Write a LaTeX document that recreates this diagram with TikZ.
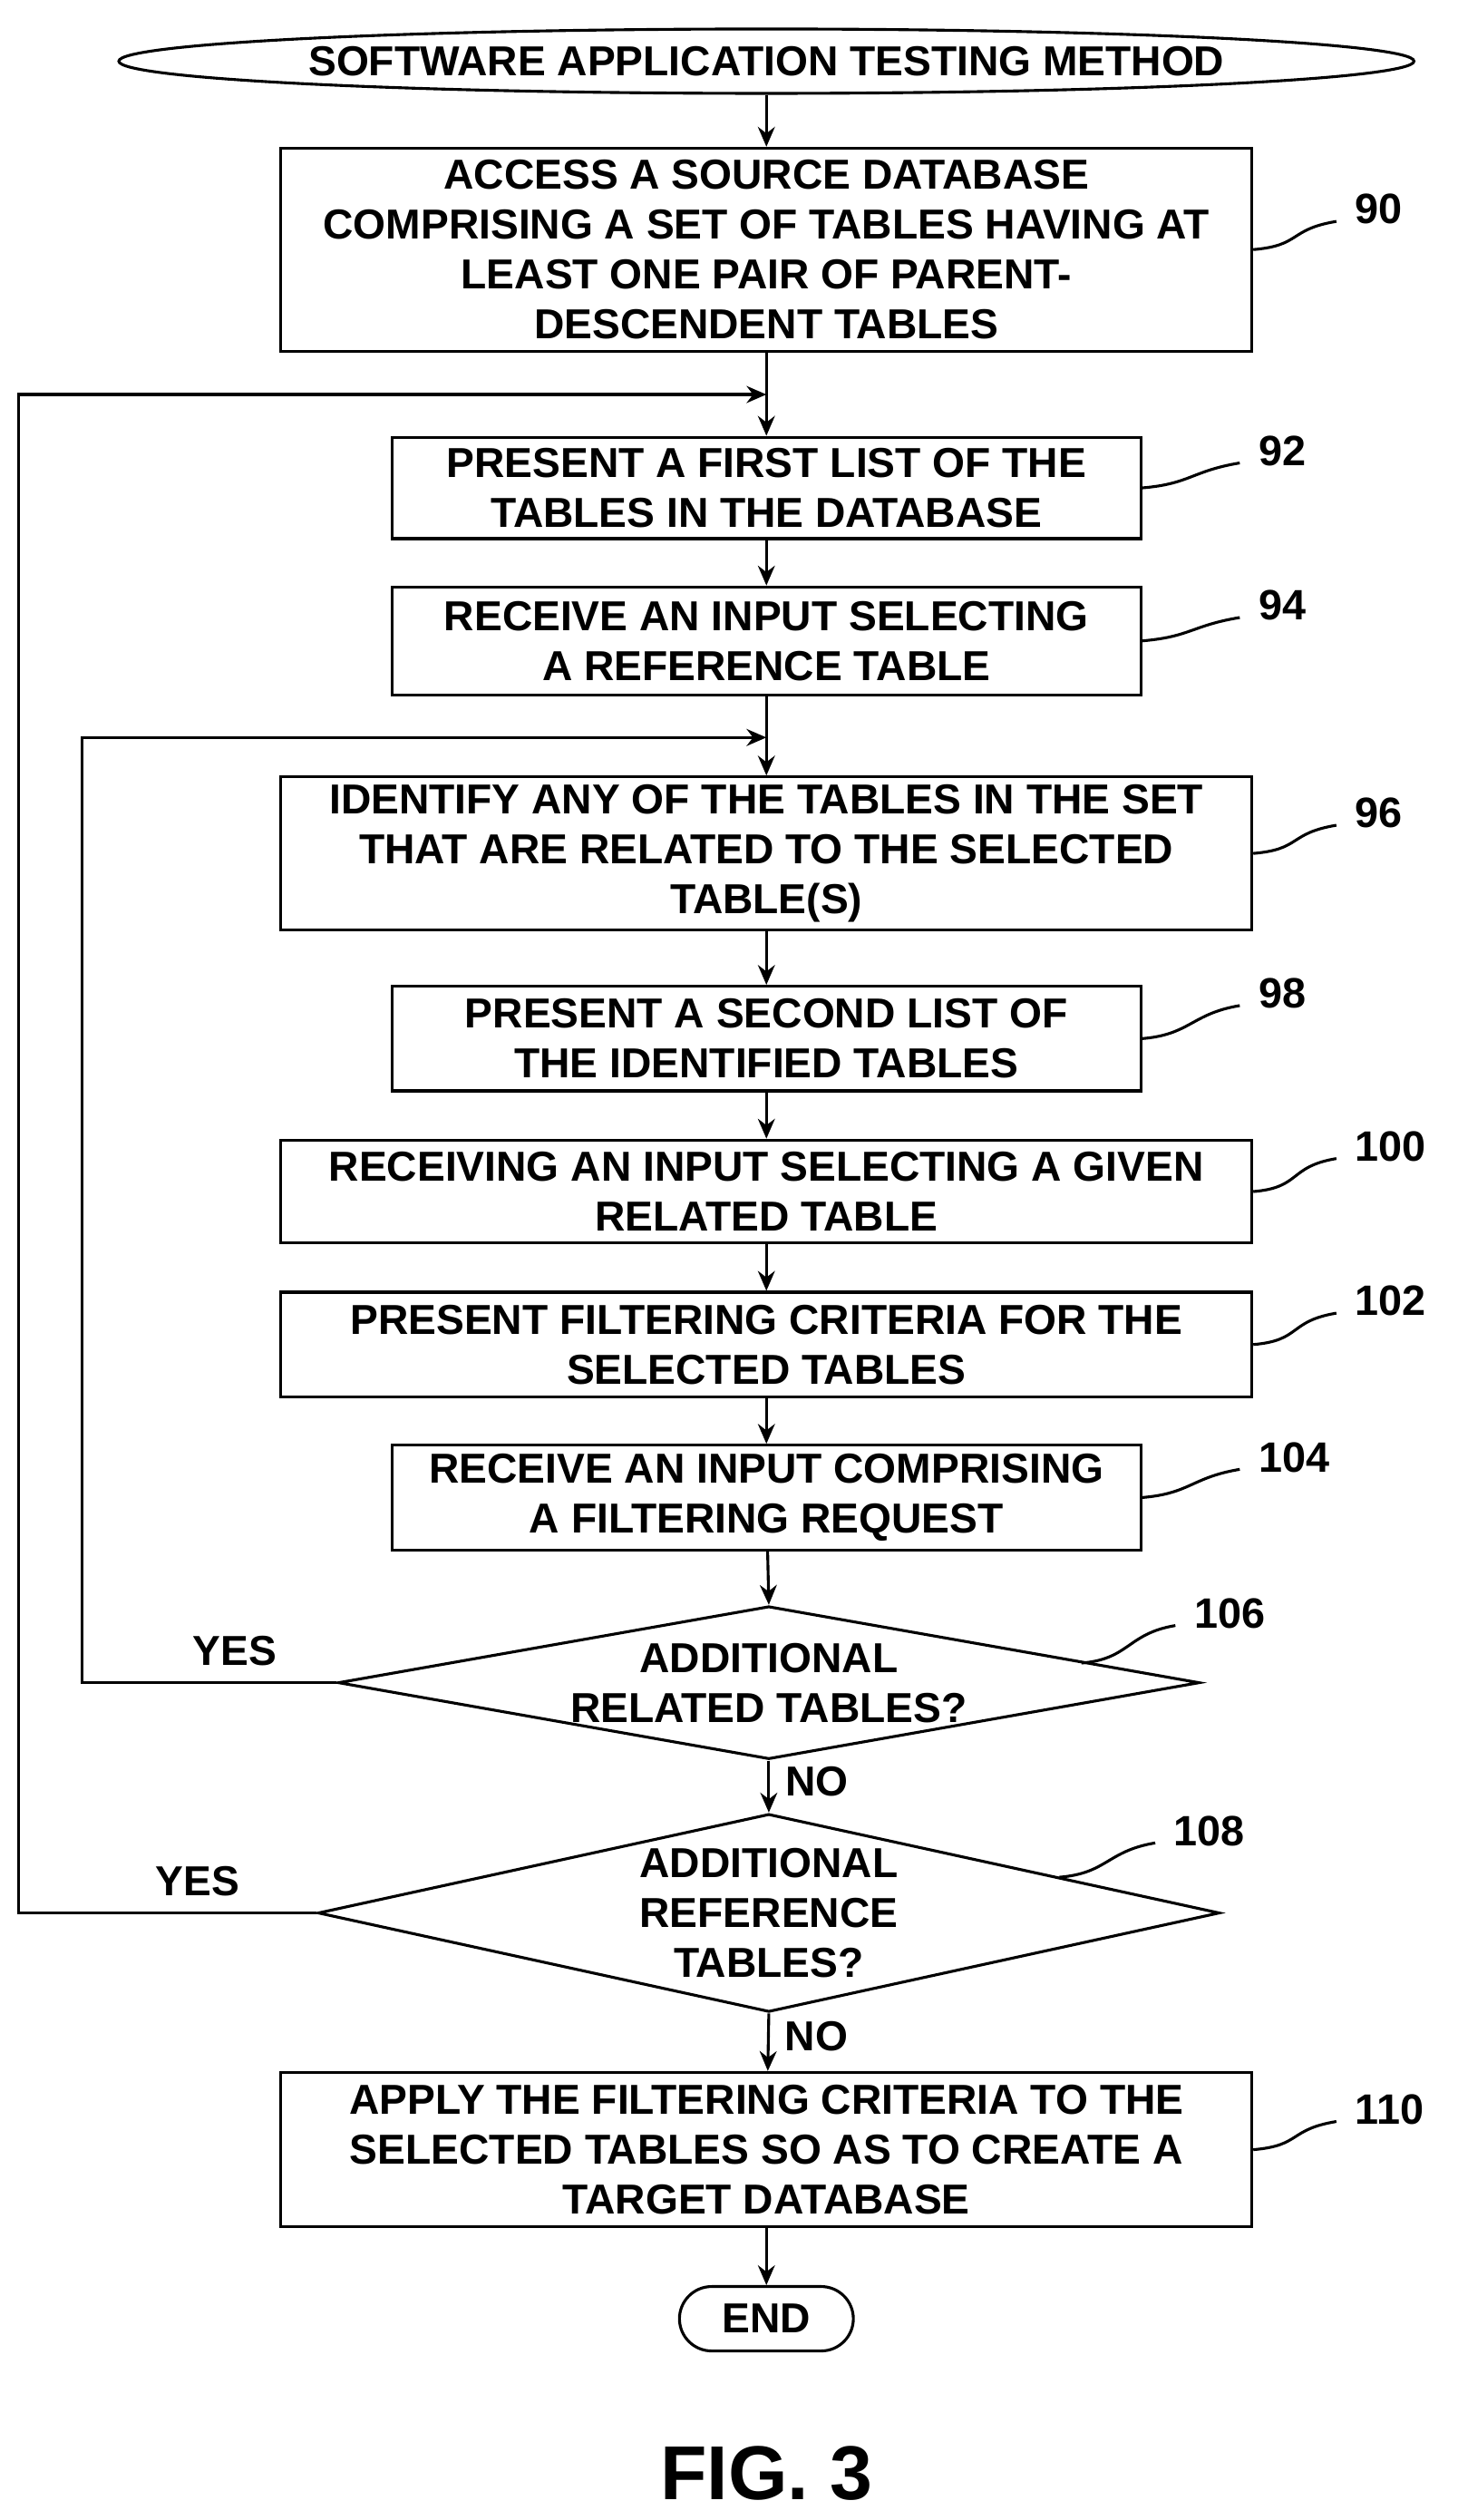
\documentclass[tikz,border=0pt]{standalone}
\usepackage{fontspec}
\setmainfont{Liberation Sans}
\usetikzlibrary{shapes.geometric,arrows.meta}

\begin{document}
\begin{tikzpicture}[font=\bfseries\fontsize{14.8}{17.6}\selectfont, line width=1pt,
  box/.style={draw, rectangle, align=center, inner sep=2pt},
  wide/.style={box, minimum width=12.06cm},
  narrow/.style={box, minimum width=9.3cm},
  decision/.style={draw, diamond, inner sep=0pt},
  arrow/.style={-{Stealth[length=7pt,width=6pt]}},
  refnum/.style={font=\bfseries\fontsize{15}{17}\selectfont, anchor=west},
  squiggle/.style={line width=1pt}]
  \useasboundingbox (0,0) rectangle (18.1,-31.3);

  \node[draw, ellipse, minimum width=12.6cm, minimum height=0.8cm, inner sep=0pt] (start) at (9.52,-0.76) {SOFTWARE APPLICATION TESTING METHOD};
  \node[wide, minimum height=2.52cm] (s90) at (9.52,-3.1) {ACCESS A SOURCE DATABASE\\COMPRISING A SET OF TABLES HAVING AT\\LEAST ONE PAIR OF PARENT-\\DESCENDENT TABLES};
  \node[narrow, minimum height=1.26cm] (s92) at (9.52,-6.06) {PRESENT A FIRST LIST OF THE\\TABLES IN THE DATABASE};
  \node[narrow, minimum height=1.34cm] (s94) at (9.52,-7.96) {RECEIVE AN INPUT SELECTING\\A REFERENCE TABLE};
  \node[wide, minimum height=1.9cm] (s96) at (9.52,-10.6) {IDENTIFY ANY OF THE TABLES IN THE SET\\THAT ARE RELATED TO THE SELECTED\\TABLE(S)};
  \node[narrow, minimum height=1.3cm] (s98) at (9.52,-12.9) {PRESENT A SECOND LIST OF\\THE IDENTIFIED TABLES};
  \node[wide, minimum height=1.28cm] (s100) at (9.52,-14.8) {RECEIVING AN INPUT SELECTING A GIVEN\\RELATED TABLE};
  \node[wide, minimum height=1.3cm] (s102) at (9.52,-16.7) {PRESENT FILTERING CRITERIA FOR THE\\SELECTED TABLES};
  \node[narrow, minimum height=1.3cm] (s104) at (9.52,-18.6) {RECEIVE AN INPUT COMPRISING\\A FILTERING REQUEST};
  \node[decision, minimum width=10.7cm, minimum height=1.9cm, label={[align=center]center:ADDITIONAL\\RELATED TABLES?}] (s106) at (9.55,-20.9) {};
  \node[decision, minimum width=11.2cm, minimum height=2.46cm, label={[align=center]center:ADDITIONAL\\REFERENCE\\TABLES?}] (s108) at (9.55,-23.76) {};
  \node[wide, minimum height=1.92cm] (s110) at (9.52,-26.7) {APPLY THE FILTERING CRITERIA TO THE\\SELECTED TABLES SO AS TO CREATE A\\TARGET DATABASE};
  \node[draw, rounded corners=0.4cm, minimum width=2.16cm, minimum height=0.8cm] (stop) at (9.52,-28.8) {END};
  \node[font=\bfseries\fontsize{27}{30}\selectfont] (fig) at (9.52,-30.72) {FIG. 3};

  % loop-back points
  \coordinate (j1) at (9.52,-4.9);
  \coordinate (j2) at (9.52,-9.16);

  \draw[arrow] (start) -- (s90);
  \draw[arrow] (s90) -- (s92);
  \draw[arrow] (s92) -- (s94);
  \draw[arrow] (s94) -- (s96);
  \draw[arrow] (s96) -- (s98);
  \draw[arrow] (s98) -- (s100);
  \draw[arrow] (s100) -- (s102);
  \draw[arrow] (s102) -- (s104);
  \draw[arrow] (s104) -- (s106.north);
  \draw[arrow] (s106.south) -- (s108.north) node[pos=0.4, right=2pt] {NO};
  \draw[arrow] (s108.south) -- (s110) node[pos=0.4, right=2pt] {NO};
  \draw[arrow] (s110) -- (stop);
  \draw[arrow] (s106.west) -- ++(-3.16,0) node[pos=0.4, above=2pt] {YES} |- (j2);
  \draw[arrow] (s108.west) -- ++(-3.7,0) node[pos=0.4, above=2pt] {YES} |- (j1);

  % reference numerals
  \foreach \n/\src/\x/\y in {90/s90/16.7/-2.6, 92/s92/15.5/-5.6, 94/s94/15.5/-7.52, 96/s96/16.7/-10.1,
      98/s98/15.5/-12.34, 100/s100/16.7/-14.24, 102/s102/16.7/-16.16, 104/s104/15.5/-18.1,
      110/s110/16.7/-26.2} {
    \node[refnum] (r\n) at (\x,\y) {\n};
    \draw[squiggle] (\src.east) .. controls +(0.6,0.05) and +(-0.6,-0.1) .. ([xshift=-0.1cm,yshift=-0.15cm]r\n.west);
  }
  \node[refnum] (r106) at (14.7,-20.04) {106};
  \draw[squiggle] ([xshift=1.2cm,yshift=-0.24cm]s106.north east) .. controls +(0.6,0.05) and +(-0.6,-0.1) .. ([xshift=-0.1cm,yshift=-0.15cm]r106.west);
  \node[refnum] (r108) at (14.45,-22.74) {108};
  \draw[squiggle] ([xshift=0.8cm,yshift=-0.18cm]s108.north east) .. controls +(0.6,0.05) and +(-0.6,-0.1) .. ([xshift=-0.1cm,yshift=-0.15cm]r108.west);
\end{tikzpicture}
\end{document}
